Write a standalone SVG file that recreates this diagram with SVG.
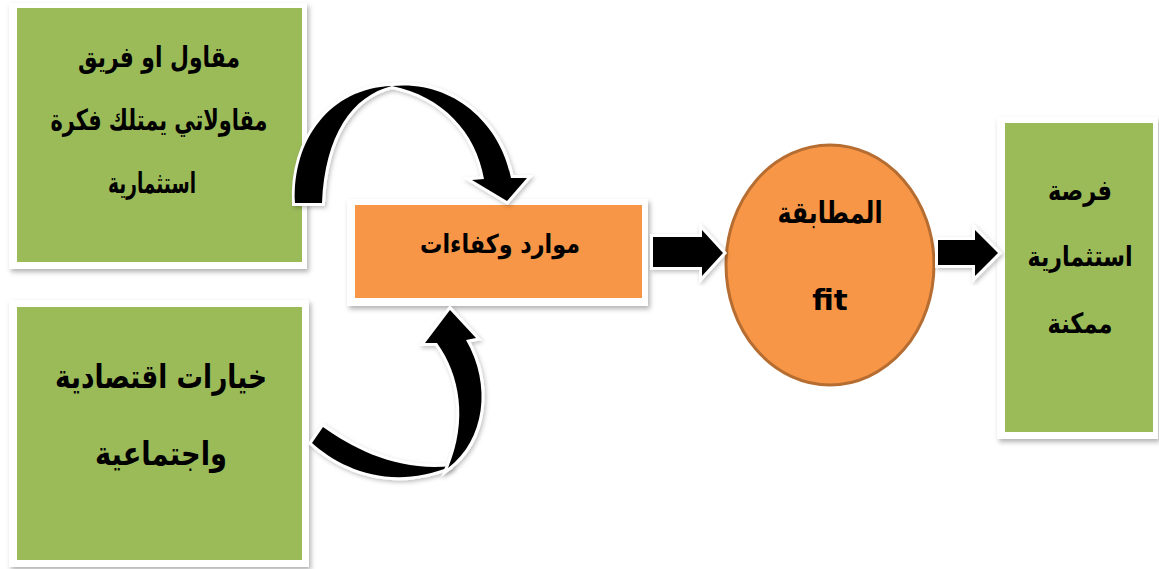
<svg xmlns="http://www.w3.org/2000/svg" width="1159" height="569" viewBox="0 0 1159 569">
  <defs>
    <filter id="sh" x="-10%" y="-10%" width="125%" height="125%">
      <feDropShadow dx="2" dy="3" stdDeviation="2.5" flood-color="#000" flood-opacity="0.3"/>
    </filter>
    <filter id="ash" x="-20%" y="-20%" width="140%" height="140%">
      <feDropShadow dx="1.5" dy="2" stdDeviation="2" flood-color="#000" flood-opacity="0.25"/>
    </filter>
  </defs>
  <style>
    .frame { fill: #ffffff; filter: url(#sh); }
    .green { fill: #9BBB59; }
    .orange { fill: #F79646; }
    .lbl { font-family: "DejaVu Sans", "Liberation Sans", sans-serif; font-weight: bold; fill: #000; text-anchor: middle; }
    .arr { fill: #000; stroke: #fff; stroke-width: 6; stroke-linejoin: miter; paint-order: stroke; filter: url(#ash); }
  </style>
  <rect width="1159" height="569" fill="#fff"/>

  <g id="node-entrepreneur">
    <rect class="frame" x="9" y="3" width="298" height="266"/>
    <rect class="green" x="17" y="8" width="285" height="254"/>
    <text class="lbl" font-size="29" direction="rtl" x="159" y="67" textLength="162" lengthAdjust="spacingAndGlyphs">مقاول او فريق</text>
    <text class="lbl" font-size="29" direction="rtl" x="159" y="130" textLength="217" lengthAdjust="spacingAndGlyphs">مقاولاتي يمتلك فكرة</text>
    <text class="lbl" font-size="29" direction="rtl" x="152" y="193" textLength="88" lengthAdjust="spacingAndGlyphs">استثمارية</text>
  </g>

  <g id="node-choices">
    <rect class="frame" x="9" y="300" width="300" height="267"/>
    <rect class="green" x="17" y="307" width="285" height="253"/>
    <text class="lbl" font-size="33" direction="rtl" x="161" y="388" textLength="212" lengthAdjust="spacingAndGlyphs">خيارات اقتصادية</text>
    <text class="lbl" font-size="33" direction="rtl" x="161" y="465" textLength="132" lengthAdjust="spacingAndGlyphs">واجتماعية</text>
  </g>

  <g id="node-resources">
    <rect class="frame" x="347" y="199" width="301" height="107"/>
    <rect class="orange" x="355" y="205" width="287" height="93"/>
    <text class="lbl" font-size="26" direction="rtl" x="500" y="253" textLength="160" lengthAdjust="spacingAndGlyphs">موارد وكفاءات</text>
  </g>

  <g id="node-fit">
    <ellipse cx="830" cy="265" rx="104" ry="120" fill="#F79646" stroke="#B66D31" stroke-width="3"/>
    <text class="lbl" font-size="30" direction="rtl" x="830" y="223" textLength="105" lengthAdjust="spacingAndGlyphs">المطابقة</text>
    <text class="lbl" font-size="29" x="830" y="310">fit</text>
  </g>

  <g id="node-opportunity">
    <rect class="frame" x="997" y="117" width="161" height="322"/>
    <rect class="green" x="1005" y="123" width="148" height="309"/>
    <text class="lbl" font-size="28" direction="rtl" x="1080" y="200" textLength="64" lengthAdjust="spacingAndGlyphs">فرصة</text>
    <text class="lbl" font-size="28" direction="rtl" x="1080" y="266" textLength="105" lengthAdjust="spacingAndGlyphs">استثمارية</text>
    <text class="lbl" font-size="28" direction="rtl" x="1080" y="333" textLength="65" lengthAdjust="spacingAndGlyphs">ممكنة</text>
  </g>

  <g id="connectors">
    <!-- top curved arrow: entrepreneur -> resources -->
    <path class="arr" d="M 295 203 C 292 140 330 88 392 86 C 352 96 325 135 322 203 Z"/>
    <path class="arr" d="M 392 86 C 452 80 500 122 511 178 L 527 178 L 507 201 L 472 180 L 484 179 C 476 132 442 96 392 86 Z"/>
    <!-- bottom curved arrow: choices -> resources -->
    <path class="arr" d="M 312 443 C 340 468 390 492 452 466 C 400 472 355 450 323 427 Z"/>
    <path class="arr" d="M 448 468 C 485 440 492 385 466 340 L 476 338 L 450 310 L 425 343 L 437 343 C 460 375 468 420 448 468 Z"/>
    <!-- resources -> fit -->
    <path class="arr" d="M 653 237 L 702 237 L 702 230 L 723 253 L 702 276 L 702 267 L 653 267 Z"/>
    <!-- fit -> opportunity -->
    <path class="arr" d="M 938 240 L 975 240 L 975 230 L 998 253 L 975 276 L 975 265 L 938 265 Z"/>
  </g>
</svg>
